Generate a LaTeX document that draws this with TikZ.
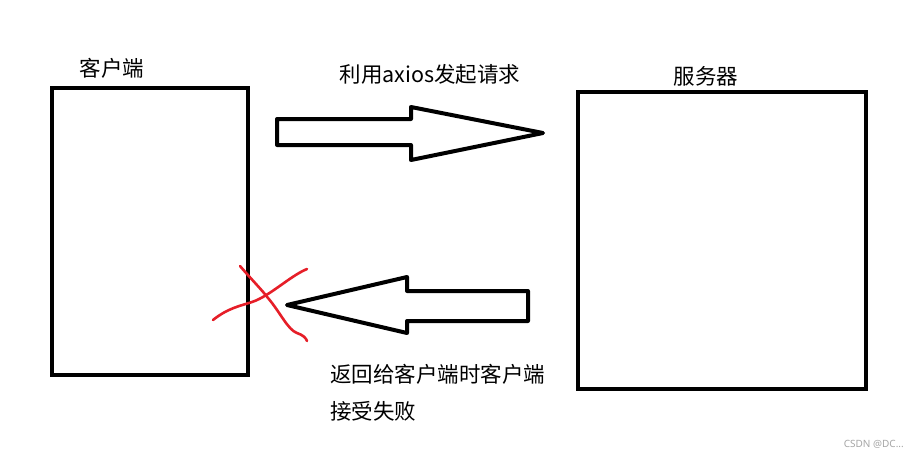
\documentclass[tikz,border=0pt]{standalone}
\usepackage{fontspec}
\newfontfamily\cjk{Noto Sans CJK SC}
\begin{document}
\begin{tikzpicture}[x=1pt,y=-1pt,
  boxstyle/.style={draw=black,line width=4pt},
  arrowshape/.style={draw=black,line width=4pt,line join=round},
  lbl/.style={font=\cjk\fontsize{21.5}{25}\selectfont,inner sep=0pt,text=black},
  cross/.style={draw={rgb,255:red,230;green,30;blue,40},line width=2.6pt,line cap=round}]
\useasboundingbox[fill=white] (0,0) rectangle (918,459);
% boxes
\node[boxstyle,minimum width=196pt,minimum height=287pt,inner sep=0pt] (client) at (150,231.5) {};
\node[boxstyle,minimum width=288pt,minimum height=297pt,inner sep=0pt] (server) at (722,240.5) {};
% labels
\node[lbl] (clientlbl) at (112,68) {客户端};
\node[lbl] (serverlbl) at (706,76) {服务器};
\node[lbl] (reqlbl) at (430,74) {利用axios发起请求};
\node[lbl,anchor=west] (resp1) at (330,374) {返回给客户端时客户端};
\node[lbl,anchor=west] (resp2) at (330,411) {接受失败};
% right arrow
\draw[arrowshape] (277,119) -- (411,119) -- (411,107) -- (543,133) -- (411,160) -- (411,145) -- (277,145) -- cycle;
% left arrow
\draw[arrowshape] (528,291) -- (407,291) -- (407,277) -- (287,305) -- (407,333) -- (407,321) -- (528,321) -- cycle;
% red cross
\draw[cross] (213,320) .. controls (228,308) and (240,306) .. (252,302) .. controls (270,296) and (290,276) .. (307,269);
\draw[cross] (240,266) .. controls (252,280) and (262,290) .. (268,298) .. controls (280,312) and (288,330) .. (297,333) .. controls (303,335) and (306,338) .. (307,341);
% watermark
\node[font=\fontspec{Noto Sans}\fontsize{10}{11}\selectfont,text=gray!70,anchor=east,inner sep=0pt] (wm) at (904,444) {CSDN @DC...};
\end{tikzpicture}
\end{document}
